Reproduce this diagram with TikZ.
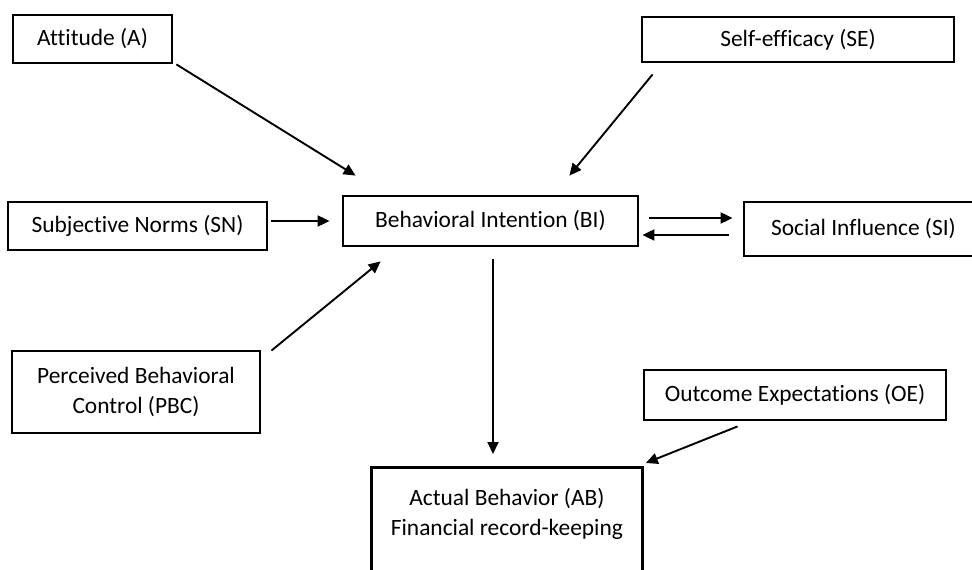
\documentclass[tikz,border=0pt]{standalone}
\usepackage{fontspec}
\setmainfont{Carlito}[Ligatures=NoCommon]
\usetikzlibrary{arrows.meta}
\begin{document}
\begin{tikzpicture}[x=1pt,y=-1pt,
  box/.style={draw=black, line width=2.8pt, inner sep=0pt, align=center, font=\fontsize{23.4}{30}\selectfont},
  arr/.style={line width=1.9pt, -{Triangle[length=12pt,width=11pt]}}]
\clip (0,0) rectangle (972,570);
\fill[white] (0,0) rectangle (972,570);
\node[box, minimum width=159pt, minimum height=48pt] (A) at (92.5,39) {Attitude (A)};
\node[box, minimum width=312pt, minimum height=45pt] (SE) at (798,39.5) {Self-efficacy (SE)};
\node[box, minimum width=259pt, minimum height=48pt] (SN) at (137.5,226) {Subjective Norms (SN)};
\node[box, minimum width=295pt, minimum height=50pt] (BI) at (490.5,221) {Behavioral Intention (BI)};
\node[box, minimum width=239pt, minimum height=54pt] (SI) at (863.5,229) {Social Influence (SI)};
\node[box, minimum width=248pt, minimum height=82pt] (PBC) at (136,392) {Perceived Behavioral\\Control (PBC)};
\node[box, minimum width=302pt, minimum height=50pt] (OE) at (795,395) {Outcome Expectations (OE)};
\node[box, anchor=north west] (AB) at (370,466) {\begin{minipage}[t][160pt][t]{271pt}\centering\vspace*{21pt}Actual Behavior (AB)\\Financial record-keeping\end{minipage}};
\draw[arr] ([xshift=3pt]A.south east) -- ([xshift=14pt,yshift=19pt]BI.north west);
\draw[arr] ([xshift=12pt,yshift=-11pt]SE.south west) -- ([xshift=-70pt,yshift=19pt]BI.north east);
\draw[arr] ([xshift=3pt,yshift=5pt]SN.east) -- ([xshift=-12pt]BI.west);
\draw[arr] ([xshift=10pt,yshift=-1pt]PBC.north east) -- ([xshift=39pt,yshift=-14pt]BI.south west);
\draw[arr] ([xshift=10pt,yshift=3pt]BI.east) -- ([xshift=-10pt,yshift=11pt]SI.west);
\draw[arr] ([xshift=-14pt,yshift=-6pt]SI.west) -- ([xshift=3pt,yshift=-14pt]BI.east);
\draw[arr] ([xshift=2.5pt,yshift=-12pt]BI.south) -- ([xshift=123pt,yshift=12pt]AB.north west);
\draw[arr] ([xshift=95pt,yshift=-5pt]OE.south west) -- ([xshift=2pt,yshift=3pt]AB.north east);
\end{tikzpicture}
\end{document}
